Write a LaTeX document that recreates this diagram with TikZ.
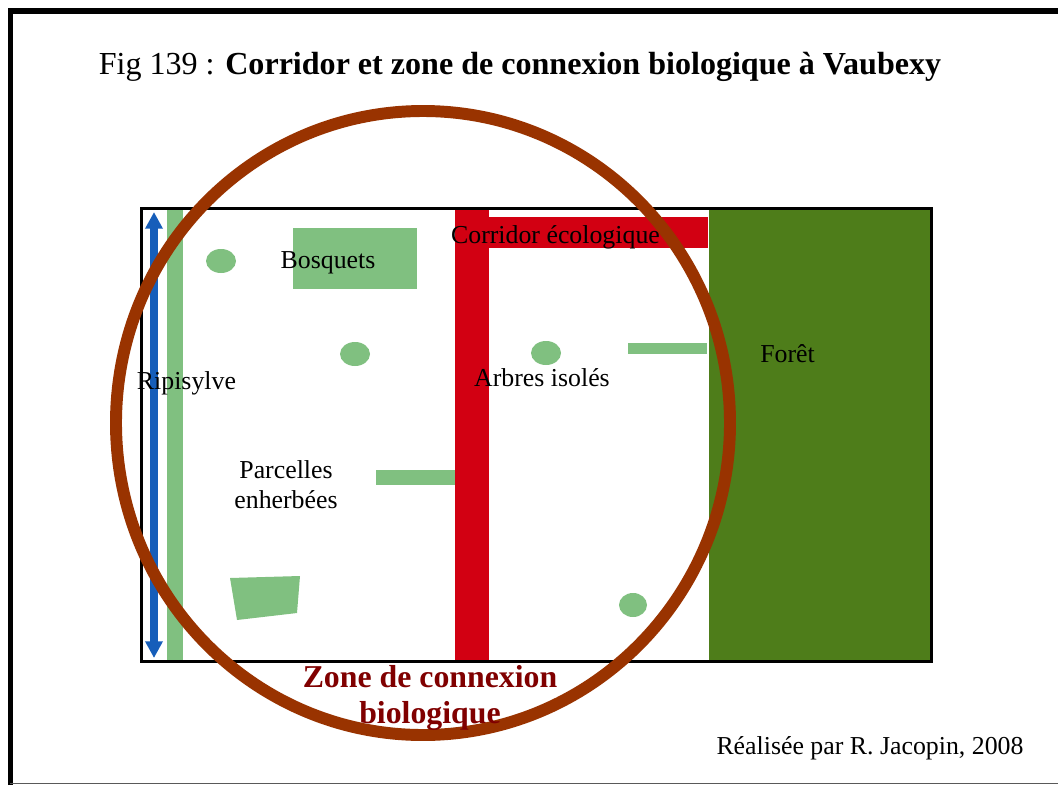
\documentclass[tikz,border=0pt]{standalone}
\usepackage{fontspec}
\setmainfont{Liberation Serif}
\usetikzlibrary{arrows.meta}
\definecolor{lgreen}{RGB}{128,192,128}
\definecolor{forest}{RGB}{78,125,26}
\definecolor{cred}{RGB}{210,0,18}
\definecolor{cblue}{RGB}{22,94,186}
\definecolor{ring}{RGB}{153,51,0}
\definecolor{zred}{RGB}{128,0,0}
\begin{document}
\begin{tikzpicture}[x=0.02cm,y=-0.02cm,
  lbl/.style={font=\fontsize{14.7}{17}\selectfont, inner sep=0, anchor=base},
  patch/.style={fill=lgreen}]
\useasboundingbox (0,0) rectangle (1058,785);
\fill[white] (0,0) rectangle (1058,785);
% outer frame
\draw[line width=3pt] (10.5,785) -- (10.5,11) -- (1058,11);
\draw[gray!70!black, line width=1.1pt] (10,783.5) -- (1058,783.5);
% title
\node[anchor=base, inner sep=0, font=\fontsize{18.25}{22}\selectfont] (title) at (520,74)
  {Fig 139 : \textbf{Corridor et zone de connexion biologique à Vaubexy}};
% forest
\fill[forest] (709,210) rectangle (931,661);
% red corridor
\fill[cred] (455,210) rectangle (489,661);
\fill[cred] (455,217) rectangle (708,248);
% ripisylve strip
\fill[lgreen] (167,210) rectangle (183,661);
% patches
\fill[patch] (221,261) ellipse [x radius=15, y radius=12];
\fill[patch] (355,354) ellipse [x radius=15, y radius=12];
\fill[patch] (546,353) ellipse [x radius=15, y radius=12];
\fill[patch] (633,605) ellipse [x radius=14, y radius=12];
\fill[patch] (293,228) rectangle (417,289);
\fill[patch] (628,343) rectangle (707,354);
\fill[patch] (376,470) rectangle (455,485);
\fill[patch] (230,578) -- (300,576) -- (297,613) -- (237,620) -- cycle;
% blue arrow
\coordinate (rtop) at (154,212);
\coordinate (rbot) at (154,658);
\draw[cblue, line width=4.6pt, {Triangle[length=9.5pt,width=9.5pt]}-{Triangle[length=9.5pt,width=9.5pt]}] (rtop) -- (rbot);
% inner border
\draw[line width=1.7pt] (141.5,208.5) rectangle (931.5,661.5);
% ring
\draw[ring, line width=6.8pt] (423,423) ellipse [x radius=307, y radius=312];
% labels
\node[lbl] (bosq) at (328,268) {Bosquets};
\node[lbl] (corr) at (555.5,243) {Corridor écologique};
\node[lbl] (ripi) at (186.5,389) {Ripisylve};
\node[lbl] (arb) at (542,386) {Arbres isolés};
\node[lbl] (foret) at (787.5,362) {Forêt};
\node[lbl, align=center, anchor=north, font=\fontsize{14.7}{17.2}\selectfont] (parc) at (286,460) {Parcelles\\enherbées};
\node[anchor=north, align=center, inner sep=0, text=zred, font=\fontsize{18.1}{20.6}\bfseries] (zone) at (430,665) {Zone de connexion\\biologique};
\node[lbl] (real) at (870,754) {Réalisée par R. Jacopin, 2008};
\end{tikzpicture}
\end{document}
